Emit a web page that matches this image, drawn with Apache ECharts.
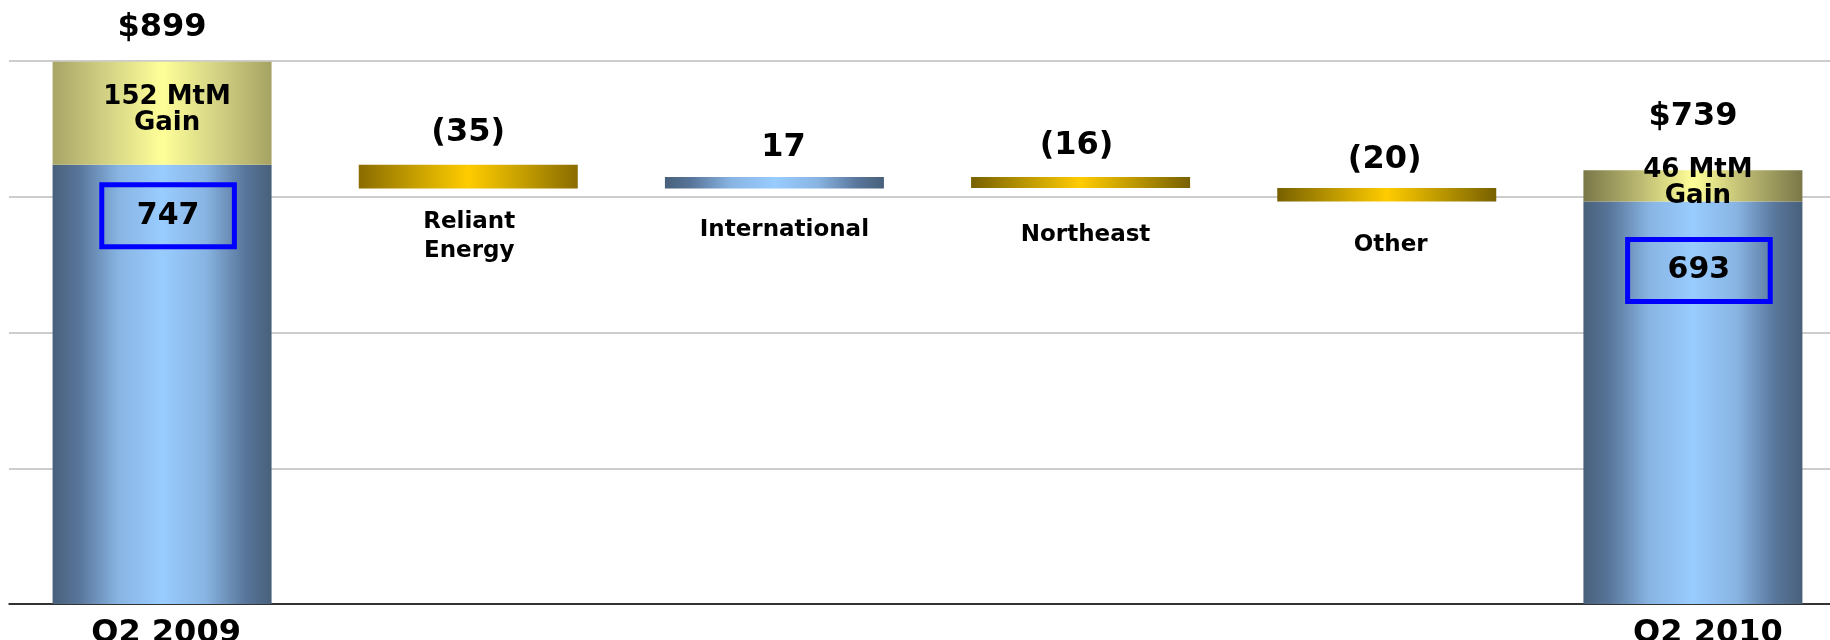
<!DOCTYPE html>
<html>
<head>
<meta charset="utf-8">
<script src="https://cdn.jsdelivr.net/npm/echarts@6/dist/echarts.min.js"></script>
<style>
  html, body { margin: 0; padding: 0; background: #ffffff; overflow: hidden; }
  /* the plot runs a little past the right edge of the page */
  #chart { width: 1846px; height: 640px; }
</style>
</head>
<body>
<div id="chart"></div>
<script>
// Columns along the x axis
const categories = ['Q2 2009', 'Reliant\nEnergy', 'International', 'Northeast', 'Other', 'Q2 2010'];
// Opening and closing totals ($M) with their mark-to-market portions
const openingTotal = 899;
const openingMtM = 152;
const closingTotal = 739;
const closingMtM = 46;
// Quarter-over-quarter changes for the middle columns, in order
const changes = [-35, 17, -16, -20];
// Value axis range and gridline step
const yMin = 100;
const yMax = 900;
const yStep = 200;

// ---- derived series -------------------------------------------------------
const openingCore = openingTotal - openingMtM;
const closingCore = closingTotal - closingMtM;
const last = categories.length - 1;

const baseVals = ['-'];
const deltaVals = ['-'];
let running = openingCore;
changes.forEach(c => {
  const next = running + c;
  baseVals.push(Math.min(running, next));
  deltaVals.push(Math.abs(c));
  running = next;
});
baseVals.push('-');
deltaVals.push('-');

// ---- styling helpers ------------------------------------------------------
const FONT = '"DejaVu Sans", Verdana, sans-serif';
const BAR_W = 219;

function hGrad(stops) {
  return {
    type: 'linear', x: 0, y: 0, x2: 1, y2: 0,
    colorStops: stops.map(([o, c]) => ({ offset: o, color: c }))
  };
}
const blueFill = hGrad([[0, '#48607a'], [0.12, '#58759a'], [0.3, '#88b4e2'], [0.5, '#99ccff'],
                        [0.7, '#88b4e2'], [0.88, '#58759a'], [1, '#48607a']]);
const mtmFillA = hGrad([[0, '#a8a566'], [0.25, '#d3d284'], [0.5, '#ffff99'], [0.75, '#d3d284'], [1, '#a6a363']]);
const mtmFillB = hGrad([[0, '#7a7748'], [0.25, '#b9b770'], [0.5, '#ffff99'], [0.75, '#b9b770'], [1, '#7a7748']]);
const goldFillA = hGrad([[0, '#8a6c00'], [0.25, '#c49e00'], [0.5, '#ffcc00'], [0.75, '#c49e00'], [1, '#8a6c00']]);
const goldFillB = hGrad([[0, '#776000'], [0.25, '#bb9700'], [0.5, '#ffcc00'], [0.75, '#bb9700'], [1, '#776000']]);

// per-column fills and label placement for the floating change bars
const deltaFill = [null, goldFillA, blueFill, goldFillB, goldFillB, null];
const deltaGap = [0, 16, 13, 15, 12, 0];
const deltaShift = [0, 0, 9, -4, -2, 0];
const nameGap = [0, 19, 27, 33, 29, 0];
const nameShift = [0, 1, 10, 5, 4, 0];

const fmtChange = c => (c < 0 ? '(' + Math.abs(c) + ')' : String(c));

const coreData = categories.map((_, i) => {
  if (i !== 0 && i !== last) return '-';
  return {
    value: i === 0 ? openingCore : closingCore,
    label: { distance: i === 0 ? 20 : 38, padding: i === 0 ? [16, 35] : [16, 40] }
  };
});
const mtmData = categories.map((_, i) => {
  if (i !== 0 && i !== last) return '-';
  return { value: i === 0 ? openingMtM : closingMtM, itemStyle: { color: i === 0 ? mtmFillA : mtmFillB } };
});
const capData = categories.map((_, i) => {
  if (i !== 0 && i !== last) return '-';
  return { value: 0, label: { distance: i === 0 ? 18 : 38 } };
});
const baseData = baseVals.map((v, i) => (v === '-' ? '-' : {
  value: v,
  label: { distance: nameGap[i], offset: [nameShift[i], 0] }
}));
const deltaData = deltaVals.map((v, i) => (v === '-' ? '-' : {
  value: v,
  itemStyle: { color: deltaFill[i] },
  label: { distance: deltaGap[i], offset: [deltaShift[i], 0] }
}));

const boldText = { fontFamily: FONT, fontWeight: 'bold', color: '#000000', textBorderWidth: 0 };

const option = {
  animation: false,
  backgroundColor: '#ffffff',
  grid: { left: 9, right: 0, top: 61, bottom: 36, outerBoundsMode: 'none', containLabel: false },
  xAxis: [
    {
      type: 'category',
      data: categories,
      axisLine: { lineStyle: { color: '#000000', width: 1.5 } },
      axisTick: { show: false },
      splitLine: { show: false },
      axisLabel: {
        interval: 0,
        margin: 12,
        formatter: (v, i) => (i === 0 ? '{a|' + v + '}' : i === last ? '{b|' + v + '}' : ''),
        rich: {
          a: Object.assign({ fontSize: 32, lineHeight: 36, padding: [0, 0, 0, 8] }, boldText),
          b: Object.assign({ fontSize: 32, lineHeight: 36, padding: [0, 0, 0, 30] }, boldText)
        }
      }
    },
    { type: 'category', data: categories, show: false }
  ],
  yAxis: {
    type: 'value',
    min: yMin,
    max: yMax,
    interval: yStep,
    axisLabel: { show: false },
    axisLine: { show: false },
    axisTick: { show: false },
    splitLine: { lineStyle: { color: '#cdcdcd', width: 2 } }
  },
  series: [
    {
      name: 'Core',
      type: 'bar',
      xAxisIndex: 0,
      stack: 'total',
      barWidth: BAR_W,
      barGap: '-100%',
      itemStyle: { color: blueFill },
      label: Object.assign({
        show: true,
        position: 'insideTop',
        formatter: '{c}',
        fontSize: 30,
        lineHeight: 30,
        offset: [6, 0],
        borderColor: '#0000ff',
        borderWidth: 5
      }, boldText),
      emphasis: { disabled: true },
      data: coreData
    },
    {
      name: 'MtM',
      type: 'bar',
      xAxisIndex: 0,
      stack: 'total',
      barWidth: BAR_W,
      barGap: '-100%',
      label: Object.assign({
        show: true,
        position: 'inside',
        fontSize: 26,
        lineHeight: 26,
        offset: [5, -3],
        formatter: p => p.value + ' MtM\nGain'
      }, boldText),
      emphasis: { disabled: true },
      data: mtmData
    },
    {
      name: 'Total',
      type: 'bar',
      xAxisIndex: 0,
      stack: 'total',
      barWidth: BAR_W,
      barGap: '-100%',
      itemStyle: { color: 'transparent' },
      label: Object.assign({
        show: true,
        position: 'top',
        fontSize: 32,
        lineHeight: 32,
        formatter: p => '$' + (p.dataIndex === 0 ? openingTotal : closingTotal)
      }, boldText),
      emphasis: { disabled: true },
      data: capData
    },
    {
      name: 'Base',
      type: 'bar',
      xAxisIndex: 1,
      stack: 'change',
      barWidth: BAR_W,
      barGap: '-100%',
      itemStyle: { color: 'transparent' },
      label: Object.assign({
        show: true,
        position: 'insideTop',
        fontSize: 23,
        lineHeight: 29,
        formatter: p => categories[p.dataIndex]
      }, boldText),
      emphasis: { disabled: true },
      data: baseData
    },
    {
      name: 'Change',
      type: 'bar',
      xAxisIndex: 1,
      stack: 'change',
      barWidth: BAR_W,
      barGap: '-100%',
      label: Object.assign({
        show: true,
        position: 'top',
        fontSize: 32,
        lineHeight: 32,
        formatter: p => fmtChange(changes[p.dataIndex - 1])
      }, boldText),
      emphasis: { disabled: true },
      data: deltaData
    }
  ]
};

const chart = echarts.init(document.getElementById('chart'), null, { renderer: 'canvas' });
chart.setOption(option);
</script>
</body>
</html>
